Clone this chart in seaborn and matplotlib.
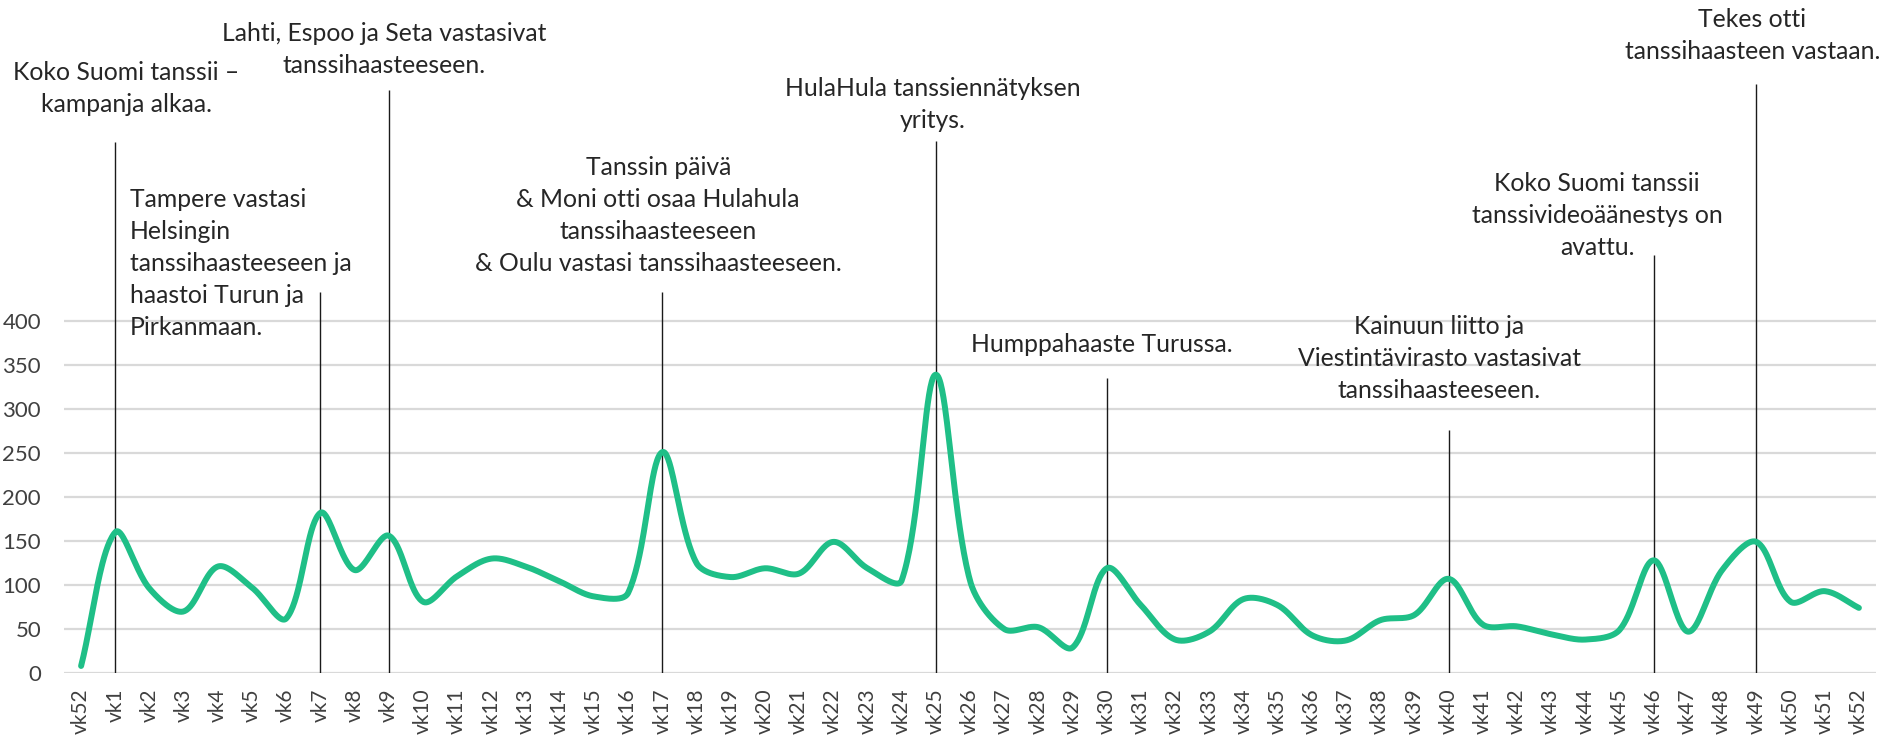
import numpy as np
import pandas as pd
import matplotlib
matplotlib.use("Agg")
import matplotlib.pyplot as plt
import seaborn as sns

# ---------------- data ----------------
weeks = ["vk52"] + [f"vk{i}" for i in range(1, 53)]
values = [8, 160, 96, 70, 121, 97, 62, 182, 117, 156, 81, 110, 130, 121, 104, 87, 91,
          251, 125, 109, 119, 113, 149, 119, 105, 339, 105, 50, 52, 29, 119, 77, 38, 47,
          84, 77, 43, 37, 60, 66, 107, 55, 53, 44, 38, 49, 128, 47, 117, 149, 81, 93, 74]
y_ticks = [0, 50, 100, 150, 200, 250, 300, 350, 400]

event_weeks = ["vk1", "vk7", "vk9", "vk17", "vk25", "vk30", "vk40", "vk46", "vk49"]
event_texts = [
    "Koko Suomi tanssii –\nkampanja alkaa.",
    "Tampere vastasi\nHelsingin\ntanssihaasteeseen ja\nhaastoi Turun ja\nPirkanmaan.",
    "Lahti, Espoo ja Seta vastasivat\ntanssihaasteeseen.",
    "Tanssin päivä\n& Moni otti osaa Hulahula\ntanssihaasteeseen\n& Oulu vastasi tanssihaasteeseen.",
    "HulaHula tanssiennätyksen\nyritys.",
    "Humppahaaste Turussa.",
    "Kainuun liitto ja\nViestintävirasto vastasivat\ntanssihaasteeseen.",
    "Koko Suomi tanssii\ntanssivideoäänestys on\navattu.",
    "Tekes otti\ntanssihaasteen vastaan.",
]

# ---------------- layout / style ----------------
W, H = 1883, 735
GREEN = "#1FBF87"
TEXT = "#262626"
TICK = "#404040"

line_tops = [603, 433, 662, 433, 605, 335, 276, 475, 669]
text_dx = [0.32, None, -0.14, -0.12, -0.08, -0.14, -0.28, -1.66, -0.12]
text_x_left = {1: 1.43}
text_y = [664, 465, 708, 520, 646, 373, 357, 520, 724.5]

sns.set_theme(style="white")
plt.rcParams["font.family"] = ["Lato", "DejaVu Sans"]

fig = plt.figure(figsize=(W / 100, H / 100), dpi=100)
ax = fig.add_axes([64 / W, (H - 673) / H, (1876 - 64) / W, 673 / H])

XU, YU = 34.19, 352 / 400  # pixel size of one x / y unit (for smoothing shape)

def smooth(xs, ys, n=40):
    """Excel-like smoothed line: chord-weighted Bezier through the points."""
    P = np.column_stack([np.asarray(xs, float) * XU, np.asarray(ys, float) * YU])
    P = np.vstack([P[0], P, P[-1]])
    t = np.linspace(0, 1, n, endpoint=False)[:, None]
    out = []
    for i in range(1, len(P) - 2):
        p0, p1, p2, p3 = P[i - 1], P[i], P[i + 1], P[i + 2]
        d01 = np.linalg.norm(p1 - p0)
        d12 = np.linalg.norm(p2 - p1)
        d23 = np.linalg.norm(p3 - p2)
        w1 = d12 / (d01 + d12) if d01 + d12 > 0 else 0
        w2 = d12 / (d12 + d23) if d12 + d23 > 0 else 0
        c1 = p1 + (p2 - p0) * w1 / 3
        c2 = p2 - (p3 - p1) * w2 / 3
        seg = ((1 - t) ** 3) * p1 + 3 * ((1 - t) ** 2) * t * c1 + 3 * (1 - t) * t ** 2 * c2 + t ** 3 * p2
        out.append(seg)
    out.append(P[-2][None, :])
    out = np.vstack(out)
    return out[:, 0] / XU, out[:, 1] / YU

xpos = np.arange(len(weeks))
sx, sy = smooth(xpos, values)
df = pd.DataFrame({"x": sx, "y": sy})
sns.lineplot(data=df, x="x", y="y", sort=False, color=GREEN, linewidth=4.3, ax=ax,
             solid_capstyle="round", zorder=3)

ax.set_xlim(-0.5, len(weeks) - 0.5)
ax.set_ylim(0, 673 * 400 / 352)
ax.set_yticks(y_ticks)
ax.set_xticks(xpos)
ax.set_xticklabels(weeks, rotation=90, fontsize=15, color=TICK)
ax.tick_params(axis="y", labelsize=16, labelcolor=TICK, length=0, pad=16.5)
ax.tick_params(axis="x", length=0, pad=11)
ax.yaxis.grid(True, color="#D9D9D9", linewidth=1.6, zorder=0)
ax.xaxis.grid(False)
for s in ax.spines.values():
    s.set_visible(False)
ax.set_xlabel("")
ax.set_ylabel("")

for i, (wk, txt) in enumerate(zip(event_weeks, event_texts)):
    xi = weeks.index(wk, 1)
    ax.vlines(xi, 0, line_tops[i], color="#1a1a1a", linewidth=1.0, zorder=2)
    if i in text_x_left:
        ax.text(text_x_left[i], text_y[i], txt, ha="left", va="center", fontsize=17.8,
                color=TEXT, linespacing=1.47, zorder=4)
    else:
        ax.text(xi + text_dx[i], text_y[i], txt, ha="center", va="center", fontsize=17.8,
                color=TEXT, linespacing=1.47, multialignment="center", zorder=4)

fig.savefig("out.png", dpi=100)
